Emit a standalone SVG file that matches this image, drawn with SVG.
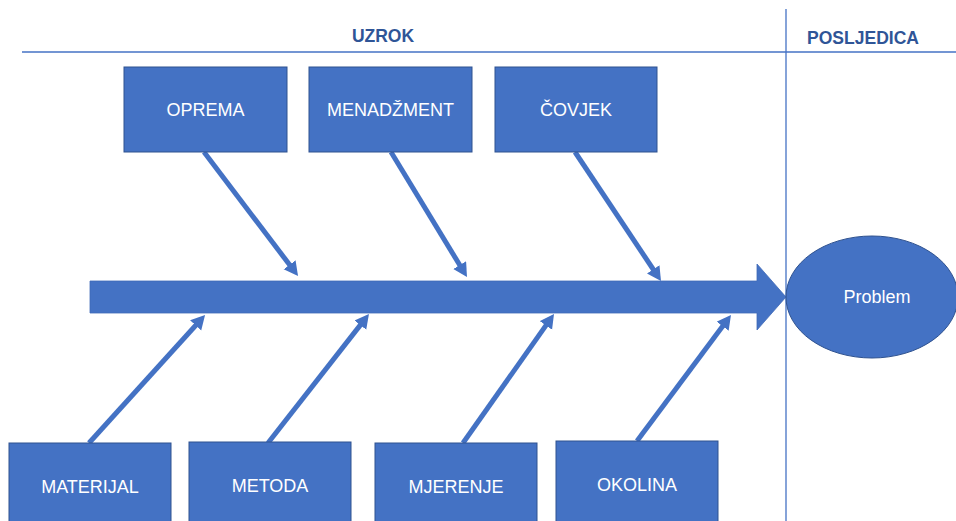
<svg xmlns="http://www.w3.org/2000/svg" width="956" height="521" viewBox="0 0 956 521">
<style>
.box{fill:#4472C4;stroke:#2F528F;stroke-width:1}
.lbl{font-family:"Liberation Sans",Arial,sans-serif;font-size:18px;fill:#FFFFFF;text-anchor:middle}
.hdr{font-family:"Liberation Sans",Arial,sans-serif;font-size:17.5px;font-weight:bold;fill:#2F5597;text-anchor:middle}
.guide{stroke:#4472C4;stroke-width:1.3;fill:none}
.bone{stroke:#4472C4;stroke-width:5;fill:none;marker-end:url(#ah)}
</style>
<defs>
<marker id="ah" markerUnits="userSpaceOnUse" markerWidth="16" markerHeight="16" refX="5" refY="7.5" orient="auto">
<path d="M0,0 L14,7.5 L0,15 z" fill="#4472C4"/>
</marker>
</defs>
<rect width="956" height="521" fill="#FFFFFF"/>
<g id="headers">
<line class="guide" x1="22" y1="52" x2="956" y2="52"/>
<line class="guide" x1="786" y1="9" x2="786" y2="521"/>
<text class="hdr" x="383" y="42">UZROK</text>
<text class="hdr" x="863" y="44">POSLJEDICA</text>
</g>
<g id="connectors">
<line class="bone" x1="204" y1="152" x2="292.6" y2="268.8"/>
<line class="bone" x1="391" y1="152" x2="462.3" y2="269.3"/>
<line class="bone" x1="575" y1="152" x2="656" y2="273.5"/>
<line class="bone" x1="89" y1="443" x2="199" y2="321.7"/>
<line class="bone" x1="268" y1="443" x2="363.4" y2="321.1"/>
<line class="bone" x1="463" y1="443" x2="548.8" y2="321.4"/>
<line class="bone" x1="637" y1="441" x2="725.6" y2="322.2"/>
</g>
<g id="spine">
<polygon points="90,281 757,281 757,264 786,297 757,330 757,313 90,313" fill="#4472C4" stroke="#3F6AB8" stroke-width="0.8"/>
</g>
<g id="problem">
<ellipse cx="872" cy="297" rx="86" ry="61" class="box"/>
<text class="lbl" x="877" y="303">Problem</text>
</g>
<g id="oprema">
<rect class="box" x="124" y="67" width="163" height="85"/>
<text class="lbl" x="205.5" y="116">OPREMA</text>
</g>
<g id="menadzment">
<rect class="box" x="309" y="67" width="163" height="85"/>
<text class="lbl" x="390.5" y="116">MENADŽMENT</text>
</g>
<g id="covjek">
<rect class="box" x="495" y="67" width="162" height="85"/>
<text class="lbl" x="576" y="116">ČOVJEK</text>
</g>
<g id="materijal">
<rect class="box" x="9" y="443" width="162" height="85"/>
<text class="lbl" x="90" y="493">MATERIJAL</text>
</g>
<g id="metoda">
<rect class="box" x="189" y="442" width="162" height="85"/>
<text class="lbl" x="270" y="492">METODA</text>
</g>
<g id="mjerenje">
<rect class="box" x="375" y="443" width="162" height="85"/>
<text class="lbl" x="456" y="493">MJERENJE</text>
</g>
<g id="okolina">
<rect class="box" x="556" y="441" width="162" height="85"/>
<text class="lbl" x="637" y="491">OKOLINA</text>
</g>
</svg>
